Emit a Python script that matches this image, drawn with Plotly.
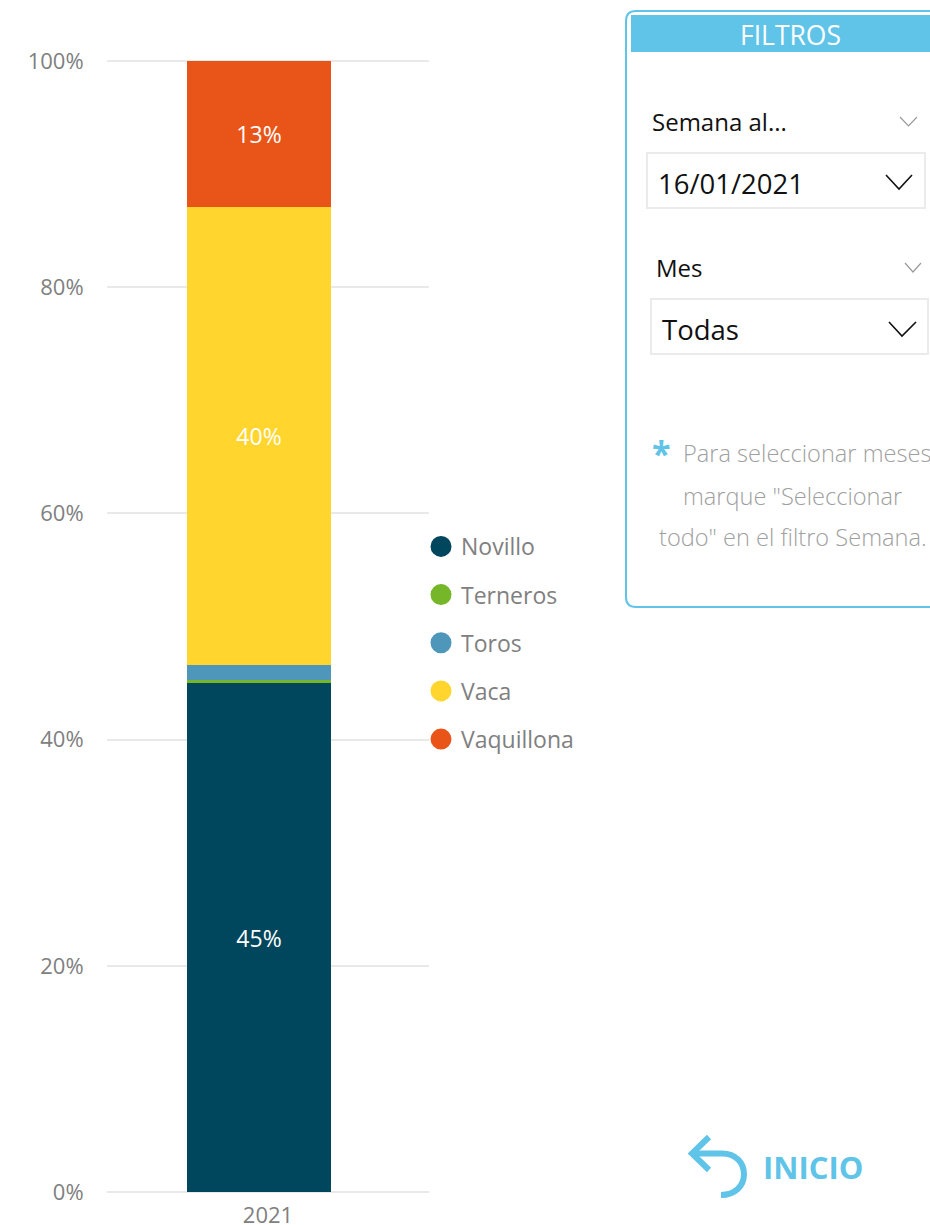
import plotly.graph_objects as go

W, H = 930, 1225
L, R = 107, 429
T, B = 59, 1194   # plot box, 2 px wider than the 0-100 span so the end gridlines draw
AXIS_TOP, AXIS_BOTTOM = 61, 1192

years = ["2021"]
series_names = ["Novillo", "Terneros", "Toros", "Vaca", "Vaquillona"]
novillo = [45.0]
terneros = [0.3]
toros = [1.3]
vaca = [40.45]
vaquillona = [12.95]
series_values = [novillo, terneros, toros, vaca, vaquillona]
series_colors = ["#00465C", "#76B729", "#4E97BA", "#FFD52E", "#E95419"]
show_label = [True, False, False, True, True]
y_ticks = [0, 20, 40, 60, 80, 100]
y_tick_text = ["0%", "20%", "40%", "60%", "80%", "100%"]

BLUE = "#5FC4E8"
FONT = "Open Sans"


def px(x):
    return (x - L) / (R - L)


def py(y):
    return (B - y) / (B - T)


def P(x, y):
    return f"{px(x):.5f},{py(y):.5f}"


fig = go.Figure()

bar_width = 144 / (R - L)
bar_offset = px(187) - 0.5

for name, vals, col, lab in zip(series_names, series_values, series_colors, show_label):
    fig.add_trace(go.Bar(
        x=years, y=vals, name=name, legendgroup=name, showlegend=False,
        marker=dict(color=col, line=dict(width=0)),
        width=bar_width, offset=bar_offset,
        texttemplate="%{y:.0f}%" if lab else None,
        textposition="inside" if lab else "none",
        insidetextanchor="middle", textangle=0,
        insidetextfont=dict(family=FONT, size=23, color="white"),
        hovertemplate=name + ": %{y}%<extra></extra>",
    ))

for name, col in zip(series_names, series_colors):
    fig.add_trace(go.Scatter(
        x=[None], y=[None], name=name, legendgroup=name, mode="markers",
        marker=dict(color=col, size=16, symbol="circle", line=dict(color=col, width=5)),
    ))

shapes = []


def path_shape(path, color, width=2, fill=None):
    shapes.append(dict(type="path", xref="paper", yref="paper", path=path,
                       line=dict(color=color, width=width),
                       fillcolor=fill if fill else "rgba(0,0,0,0)", layer="above"))


path_shape(
    f"M {P(945, 11)} L {P(636, 11)} Q {P(626, 11)} {P(626, 21)} "
    f"L {P(626, 597)} Q {P(626, 607)} {P(636, 607)} L {P(945, 607)}",
    BLUE, 2)
path_shape(f"M {P(631, 15)} L {P(945, 15)} L {P(945, 52)} L {P(631, 52)} Z", BLUE, 0, BLUE)
for x0, y0, x1, y1 in [(647, 153, 925, 208), (651, 299, 928, 354)]:
    path_shape(f"M {P(x0, y0)} L {P(x1, y0)} L {P(x1, y1)} L {P(x0, y1)} Z", "#EBEBEB", 2)
for x0, xm, x1, y0, y1, c, w in [
    (900, 908.5, 917, 117, 126, "#9A9A9A", 1.2),
    (905, 913, 921, 263, 272, "#9A9A9A", 1.2),
    (886, 899, 912, 175, 189, "#111111", 1.6),
    (889, 902, 916, 322, 336, "#111111", 1.6),
]:
    path_shape(f"M {P(x0, y0)} L {P(xm, y1)} L {P(x1, y0)}", c, w)
path_shape(f"M {P(709, 1137)} L {P(692, 1153.5)} L {P(709, 1170)}", BLUE, 6)
path_shape(
    f"M {P(692, 1153.5)} L {P(722, 1153.5)} C {P(736, 1153.5)} {P(744, 1163)} {P(744, 1174)} "
    f"C {P(744, 1186)} {P(735, 1195)} {P(721, 1195)}",
    BLUE, 6)

annotations = []


def note(text, x, y, size, color, anchor="left", weight=400):
    annotations.append(dict(
        text=text, x=px(x), y=py(y), xref="paper", yref="paper", showarrow=False,
        xanchor=anchor, yanchor="middle", align=anchor,
        font=dict(family=FONT, size=size, color=color, weight=weight),
    ))


note("FILTROS", 790, 35, 26.5, "white", "center", 400)
note("Semana al...", 650, 121, 24, "#111111")
note("16/01/2021", 656, 183, 27.5, "#111111")
note("Mes", 654, 267, 24, "#111111")
note("Todas", 660, 330, 27.5, "#111111")
note("*", 661, 453, 34, BLUE, "center", 700)
note("Para seleccionar meses", 681, 453, 23.6, "#A0A0A0", "left", 300)
note("marque \"Seleccionar", 681, 496, 23.6, "#A0A0A0", "left", 300)
note("todo\" en el filtro Semana.", 657, 537, 23.6, "#A0A0A0", "left", 300)
note("INICIO", 761, 1167, 31, BLUE, "left", 700)

per_pct = (AXIS_BOTTOM - AXIS_TOP) / 100
fig.update_layout(
    width=W, height=H,
    margin=dict(l=L, r=W - R, t=T, b=H - B, pad=0, autoexpand=False),
    paper_bgcolor="white", plot_bgcolor="white",
    barmode="stack",
    showlegend=True,
    legend=dict(
        x=px(421), xanchor="left", y=py(525), yanchor="top",
        traceorder="grouped", tracegroupgap=15.25, bgcolor="rgba(0,0,0,0)",
        font=dict(family=FONT, size=23, color="#808080"),
        itemclick=False, itemdoubleclick=False,
    ),
    xaxis=dict(type="category", range=[-0.5, 0.5], showgrid=False, showline=False,
               zeroline=False, ticks="outside", ticklen=2, tickcolor="rgba(0,0,0,0)",
               tickfont=dict(family=FONT, size=22, color="#808080")),
    yaxis=dict(range=[-(B - AXIS_BOTTOM) / per_pct, 100 + (AXIS_TOP - T) / per_pct],
               tickvals=y_ticks, ticktext=y_tick_text, showgrid=True,
               gridcolor="#E9E9E9", gridwidth=2, zeroline=False, showline=False,
               ticks="outside", ticklen=18, tickcolor="rgba(0,0,0,0)", tickwidth=1,
               tickfont=dict(family=FONT, size=22, color="#808080")),
    shapes=shapes, annotations=annotations,
)

fig.write_html("out.html", config={"displayModeBar": False},
               post_script="document.body.style.margin='0';document.body.style.overflow='hidden';")
